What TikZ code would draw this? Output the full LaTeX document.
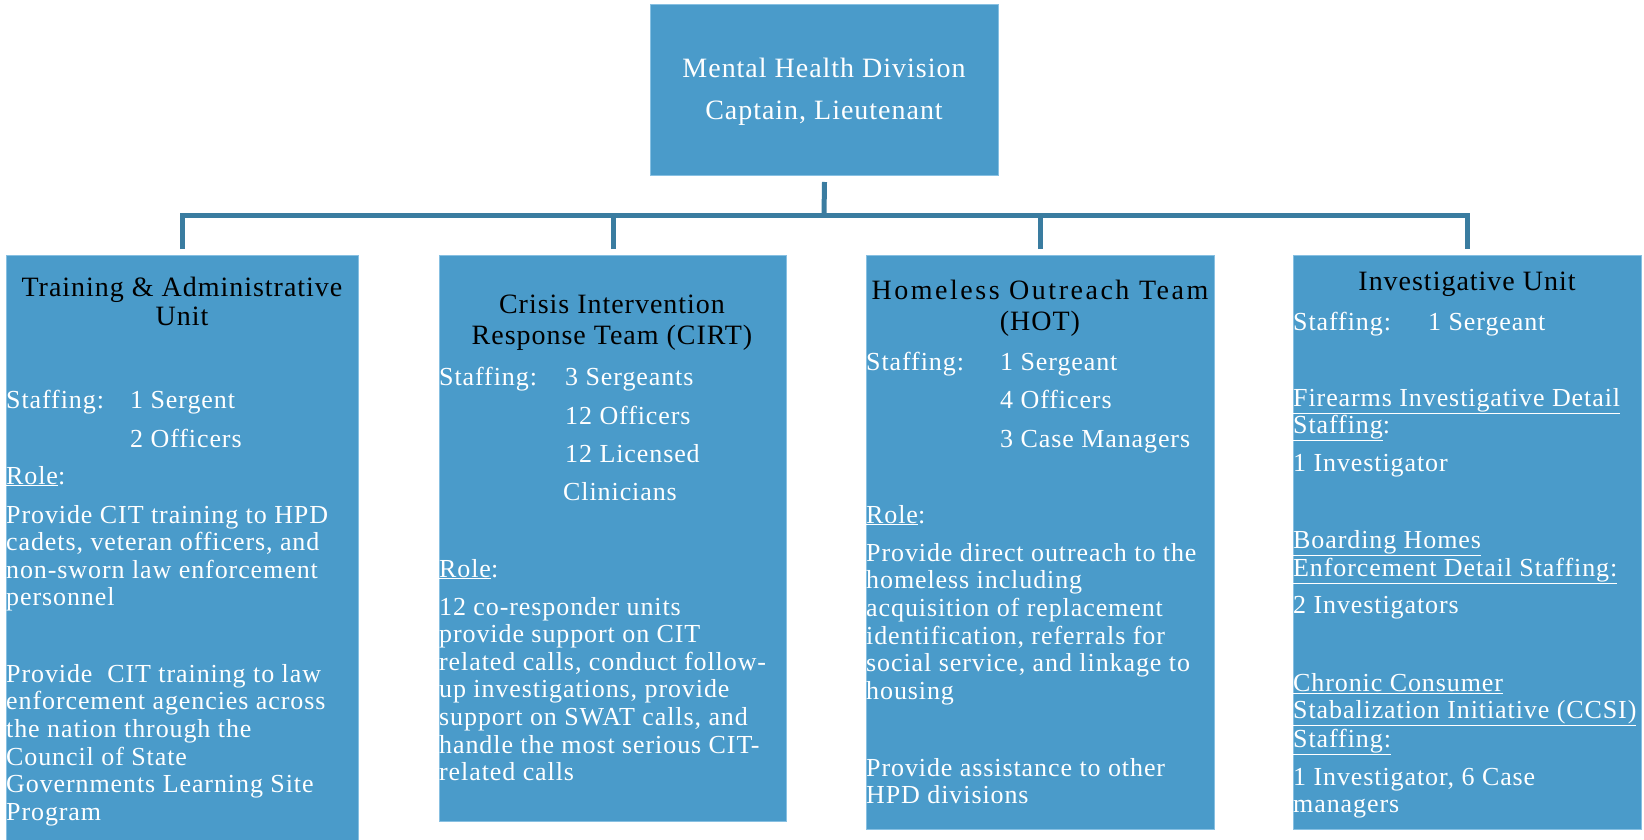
\documentclass[tikz,border=0pt]{standalone}
\usepackage{fontspec}
\setmainfont{Liberation Serif}[LetterSpace=3.5]
\definecolor{boxblue}{RGB}{74,155,202}
\definecolor{boxedge}{RGB}{135,192,226}
\definecolor{linkblue}{RGB}{58,124,160}
\begin{document}
\begin{tikzpicture}[x=1pt,y=-1pt,
  unit/.style={fill=boxblue,draw=boxedge,line width=1pt,inner sep=0pt,anchor=north west},
  conn/.style={draw=linkblue,line width=5pt},
  head/.style={inner sep=0pt,anchor=base,font=\fontsize{28}{30}\selectfont},
  toptext/.style={head,text=white},
  body/.style={inner sep=0pt,anchor=base west,text=white,font=\fontsize{26}{28}\selectfont}]
\useasboundingbox (0,0) rectangle (1644,840);

% boxes
\node[unit,minimum width=348pt,minimum height=171pt] (top) at (650,4) {};
\node[unit,minimum width=352pt,minimum height=590pt] (b1) at (6,255) {};
\node[unit,minimum width=347pt,minimum height=566pt] (b2) at (439,255) {};
\node[unit,minimum width=348pt,minimum height=574pt] (b3) at (866,255) {};
\node[unit,minimum width=348pt,minimum height=574pt] (b4) at (1293,255) {};

% connectors
\coordinate (bus) at (824,215);
\draw[conn] ([yshift=-6pt]top.south) -- (bus);
\draw[conn] ([yshift=6pt]b1.north) |- (bus) -| ([yshift=6pt]b4.north);
\draw[conn] ([yshift=6pt]b2.north) -- (b2.north |- bus);
\draw[conn] ([yshift=6pt]b3.north) -- (b3.north |- bus);

% top box
\node[toptext] (t1) at (824,78) {Mental Health Division};
\node[toptext] (t2) at (824,120) {Captain, Lieutenant};

% box 1
\node[head] (h1a) at (182,296) {Training \& Administrative};
\node[head] (h1b) at (182,325) {Unit};
\node[body] (s1) at (6,408) {Staffing:};
\node[body] (s1a) at (130,408) {1 Sergent};
\node[body] (s1b) at (130,447) {2 Officers};
\node[body] (r1) at (6,484) {\underline{Role}:};
\foreach \t [count=\i] in {Provide CIT training to HPD,{cadets, veteran officers, and},non-sworn law enforcement,personnel}
  \node[body] (p1a\i) at (6,{523+(\i-1)*27.5}) {\t};
\foreach \t [count=\i] in {Provide~ CIT training to law,enforcement agencies across,the nation through the,Council of State,Governments Learning Site,Program}
  \node[body] (p1b\i) at (6,{682+(\i-1)*27.7}) {\t};

% box 2
\node[head] (h2a) at (612,313.5) {Crisis Intervention};
\node[head] (h2b) at (612,344) {Response Team (CIRT)};
\node[body] (s2) at (439,385) {Staffing:};
\node[body] (s2a) at (565,385) {3 Sergeants};
\node[body] (s2b) at (565,424) {12 Officers};
\node[body] (s2c) at (565,462) {12 Licensed};
\node[body] (s2d) at (563,500) {Clinicians};
\node[body] (r2) at (439,577) {\underline{Role}:};
\foreach \t [count=\i] in {12 co-responder units,provide support on CIT,{related calls, conduct follow-},{up investigations, provide},{support on SWAT calls, and},handle the most serious CIT-,related calls}
  \node[body] (p2\i) at (439,{615+(\i-1)*27.6}) {\t};

% box 3
\node[head] (h3a) at (1040,299) {\addfontfeature{LetterSpace=9}Homeless Outreach Team};
\node[head] (h3b) at (1040,330) {(HOT)};
\node[body] (s3) at (866,370) {Staffing:};
\node[body] (s3a) at (1000,370) {1 Sergeant};
\node[body] (s3b) at (1000,408) {4 Officers};
\node[body] (s3c) at (1000,447) {3 Case Managers};
\node[body] (r3) at (866,523) {\underline{Role}:};
\foreach \t [count=\i] in {Provide direct outreach to the,homeless including,acquisition of replacement,{identification, referrals for},{social service, and linkage to},housing}
  \node[body] (p3a\i) at (866,{561+(\i-1)*27.7}) {\t};
\foreach \t [count=\i] in {Provide assistance to other,HPD divisions}
  \node[body] (p3b\i) at (866,{776+(\i-1)*27.5}) {\t};

% box 4
\node[head] (h4) at (1467,290) {Investigative Unit};
\node[body] (s4) at (1293,330) {Staffing:};
\node[body] (s4a) at (1428,330) {1 Sergeant};
\node[body] (f4a) at (1293,406.5) {\underline{Firearms Investigative Detail}};
\node[body] (f4b) at (1293,433) {\underline{Staffing}:};
\node[body] (f4c) at (1293,471.5) {1 Investigator};
\node[body] (g4a) at (1293,548) {\underline{Boarding Homes}};
\node[body] (g4b) at (1293,576) {\underline{Enforcement Detail Staffing:}};
\node[body] (g4c) at (1293,613) {2 Investigators};
\node[body] (c4a) at (1293,691.6) {\underline{Chronic Consumer}};
\node[body] (c4b) at (1293,718.4) {\underline{Stabalization Initiative (CCSI)}};
\node[body] (c4c) at (1293,747) {\underline{Staffing:}};
\node[body] (c4d) at (1293,785) {1 Investigator, 6 Case};
\node[body] (c4e) at (1293,812) {managers};
\end{tikzpicture}
\end{document}
